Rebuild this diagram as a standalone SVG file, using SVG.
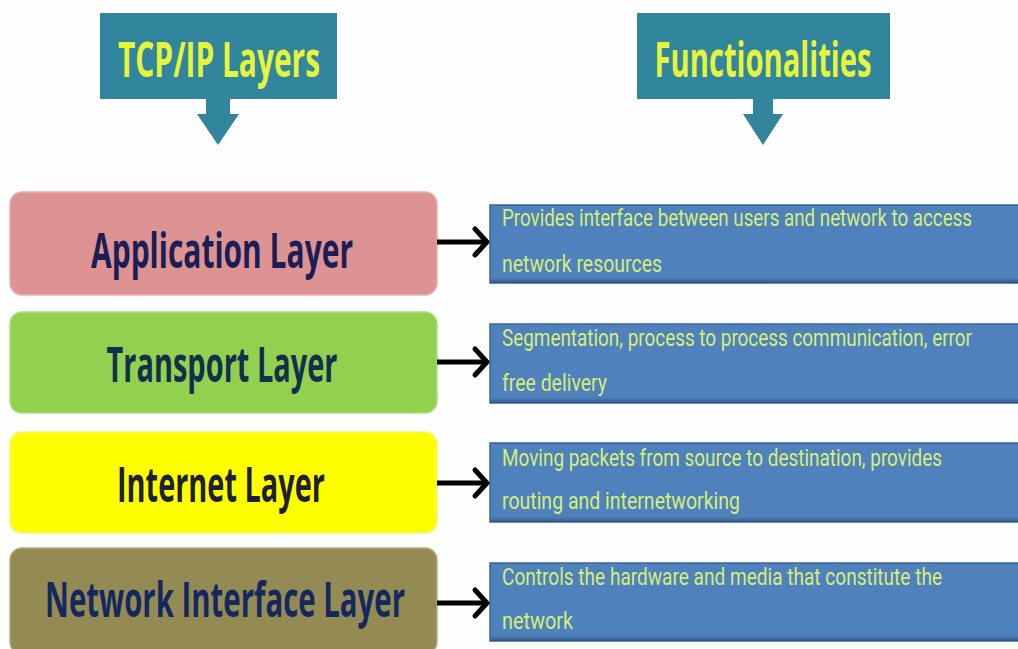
<svg xmlns="http://www.w3.org/2000/svg" width="1018" height="649" viewBox="0 0 1018 649">
  <defs>
    <style>
      .head-box { fill: #31859c; }
      .head-text { font-family: "Open Sans", "Liberation Sans", sans-serif; font-weight: 700; font-size: 48px; fill: #e6f53c; text-anchor: middle; }
      .layer-text { font-family: "Open Sans", "Liberation Sans", sans-serif; font-weight: 700; font-size: 49px; text-anchor: middle; }
      .desc-box { fill: #4f81bd; stroke: #3d6494; stroke-width: 1.5; }
      .desc-text { font-family: "Roboto", "Liberation Sans", sans-serif; font-size: 23px; fill: #d5ee78; }
      .link { stroke: #000; stroke-width: 5; fill: none; }
      .link-head { stroke: #000; stroke-width: 5; fill: none; stroke-linecap: round; stroke-linejoin: miter; }
    </style>
    <linearGradient id="shadeBottom" x1="0" y1="0" x2="0" y2="1">
      <stop offset="0" stop-color="#4f81bd" stop-opacity="0"/>
      <stop offset="1" stop-color="#2f4f7c"/>
    </linearGradient>
  </defs>

  <rect width="1018" height="649" fill="#fefefe"/>

  <!-- column headings with down-pointing arrows -->
  <g id="head-layers">
    <rect class="head-box" x="100" y="13" width="237" height="86"/>
    <path class="head-box" d="M206 98 H230 V114 H239 L218 145 L197 114 H206 Z"/>
    <text class="head-text" x="219" y="77" textLength="202" lengthAdjust="spacingAndGlyphs">TCP/IP Layers</text>
  </g>
  <g id="head-functions">
    <rect class="head-box" x="637" y="13" width="253" height="86"/>
    <path class="head-box" d="M753 98 H773 V114 H783 L763 145 L743 114 H753 Z"/>
    <text class="head-text" x="763" y="77" textLength="217" lengthAdjust="spacingAndGlyphs">Functionalities</text>
  </g>

  <!-- layer boxes -->
  <g id="layer-application">
    <rect x="10" y="192" width="427" height="103" rx="12" fill="#de9393" stroke="#e8b0b0" stroke-width="1.5"/>
    <text class="layer-text" x="222" y="268" fill="#1c1d55" textLength="262" lengthAdjust="spacingAndGlyphs">Application Layer</text>
  </g>
  <g id="layer-transport">
    <rect x="10" y="312" width="427" height="101" rx="12" fill="#92d050" stroke="#b0dc80" stroke-width="1.5"/>
    <text class="layer-text" x="222" y="382" fill="#12304a" textLength="231" lengthAdjust="spacingAndGlyphs">Transport Layer</text>
  </g>
  <g id="layer-internet">
    <rect x="10" y="432" width="427" height="101" rx="12" fill="#ffff00" stroke="#f4f47a" stroke-width="1.5"/>
    <text class="layer-text" x="221" y="502" fill="#1f1f33" textLength="208" lengthAdjust="spacingAndGlyphs">Internet Layer</text>
  </g>
  <g id="layer-network-interface">
    <rect x="10" y="548" width="427" height="106" rx="12" fill="#948a54" stroke="#b3ab80" stroke-width="1.5"/>
    <text class="layer-text" x="225" y="617" fill="#14285e" textLength="360" lengthAdjust="spacingAndGlyphs">Network Interface Layer</text>
  </g>

  <!-- connectors from layers to their functions -->
  <g id="connectors">
    <line class="link" x1="437" y1="242" x2="486" y2="242"/>
    <polyline class="link-head" points="475,229 487,242 475,255"/>
    <line class="link" x1="437" y1="362" x2="486" y2="362"/>
    <polyline class="link-head" points="475,349 487,362 475,375"/>
    <line class="link" x1="437" y1="483" x2="486" y2="483"/>
    <polyline class="link-head" points="475,470 487,483 475,496"/>
    <line class="link" x1="437" y1="603" x2="486" y2="603"/>
    <polyline class="link-head" points="475,590 487,603 475,616"/>
  </g>

  <!-- function descriptions -->
  <g id="desc-application">
    <rect class="desc-box" x="490" y="205" width="540" height="78"/>
    <rect x="490" y="276" width="540" height="7" fill="url(#shadeBottom)"/>
    <text class="desc-text" x="502" y="226" textLength="470" lengthAdjust="spacingAndGlyphs">Provides interface between users and network to access</text>
    <text class="desc-text" x="502" y="272" textLength="160" lengthAdjust="spacingAndGlyphs">network resources</text>
  </g>
  <g id="desc-transport">
    <rect class="desc-box" x="490" y="324" width="540" height="79"/>
    <rect x="490" y="396" width="540" height="7" fill="url(#shadeBottom)"/>
    <text class="desc-text" x="502" y="346" textLength="470" lengthAdjust="spacingAndGlyphs">Segmentation, process to process communication, error</text>
    <text class="desc-text" x="502" y="391" textLength="105" lengthAdjust="spacingAndGlyphs">free delivery</text>
  </g>
  <g id="desc-internet">
    <rect class="desc-box" x="490" y="443" width="540" height="79"/>
    <rect x="490" y="515" width="540" height="7" fill="url(#shadeBottom)"/>
    <text class="desc-text" x="502" y="466" textLength="440" lengthAdjust="spacingAndGlyphs">Moving packets from source to destination, provides</text>
    <text class="desc-text" x="502" y="509" textLength="238" lengthAdjust="spacingAndGlyphs">routing and internetworking</text>
  </g>
  <g id="desc-network-interface">
    <rect class="desc-box" x="490" y="563" width="540" height="78"/>
    <rect x="490" y="634" width="540" height="7" fill="url(#shadeBottom)"/>
    <text class="desc-text" x="502" y="585" textLength="440" lengthAdjust="spacingAndGlyphs">Controls the hardware and media that constitute the</text>
    <text class="desc-text" x="502" y="629" textLength="71" lengthAdjust="spacingAndGlyphs">network</text>
  </g>
</svg>
